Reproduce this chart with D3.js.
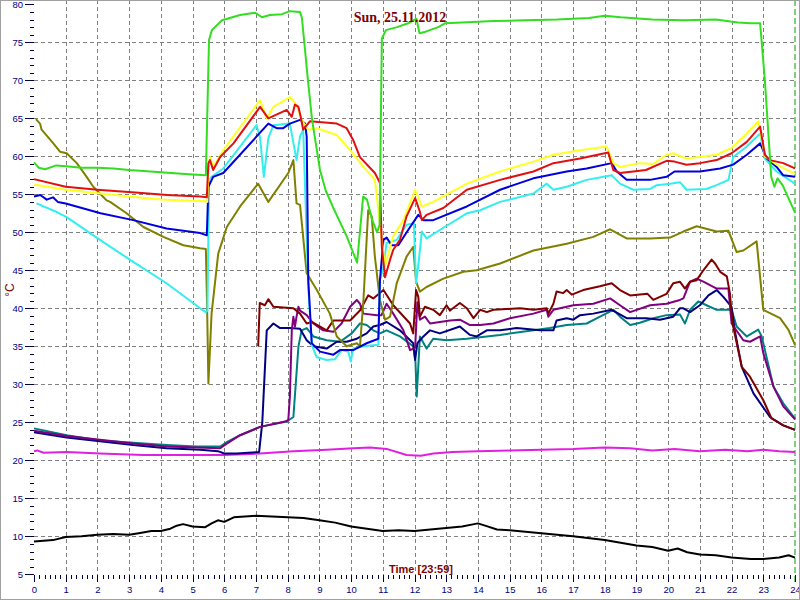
<!DOCTYPE html>
<html><head><meta charset="utf-8">
<script src="https://cdn.jsdelivr.net/npm/d3@7"></script>
<style>html,body{margin:0;padding:0;background:#fff;}svg{display:block;}</style>
</head><body>
<svg id="c" width="800" height="600"></svg>
<script>
const title = "Sun, 25.11.2012";
const xTitle = "Time [23:59]";
const yTitle = "°C";
const xTicks = d3.range(0, 25, 1);
const yTicks = [5,10,15,20,25,30,35,40,45,50,55,60,65,70,75,80];

const green = [[0,59.2],[0.15,58.5],[0.35,58.3],[0.7,58.8],[1,58.7],[1.5,58.5],[2,58.5],[2.5,58.4],[3,58.2],[4,57.9],[5,57.6],[5.42,57.5],[5.49,70],[5.52,75.3],[5.61,76.6],[5.93,77.9],[6.5,78.6],[6.97,78.9],[7.19,78.3],[7.44,78.6],[7.82,78.7],[8.07,79.1],[8.39,79],[8.45,78.2],[8.64,70],[8.77,64.8],[9.02,58.2],[9.2,55.5],[9.43,53.3],[9.87,49.4],[10.19,46],[10.38,54.7],[10.5,54.3],[10.66,51.7],[10.82,50],[10.9,51],[10.97,75.5],[11.1,76.6],[11.45,77],[11.8,77.5],[12.06,78.1],[12.16,76.2],[12.35,76.4],[12.75,77.0],[12.96,77.5],[13.5,77.6],[14.5,77.8],[15.5,77.9],[16.5,78.0],[17.5,78.2],[18,78.5],[18.5,78.3],[19.5,78.0],[20.5,77.9],[21.5,78.0],[22.2,77.6],[22.6,77.5],[22.9,77.5],[23.05,70],[23.25,57.3],[23.35,56],[23.45,57.1],[23.62,56.1],[24,52.6]];
const red = [[0,57.0],[1,56.0],[2,55.6],[3.3,55.2],[4.2,54.9],[5.24,54.7],[5.45,54.6],[5.5,59.1],[5.55,59.5],[5.65,58.2],[5.87,59.9],[6.29,61.7],[7.13,66.5],[7.39,65],[7.97,66.1],[8.13,65.2],[8.23,66.8],[8.34,66.5],[8.41,65.2],[8.49,63.5],[8.7,64.6],[9.55,64.3],[9.86,63.7],[10.07,62.1],[10.28,59.9],[10.75,57.8],[10.91,56.5],[10.97,48.1],[11.07,44.1],[11.23,46.4],[11.33,47.7],[11.54,49],[11.75,52.1],[12.02,54.5],[12.17,52.7],[12.23,51.6],[12.38,52.3],[12.91,53.2],[13.65,55.6],[14.7,56.9],[15.75,58],[16.38,59.1],[17.22,59.7],[18.11,60.5],[18.27,58.2],[18.48,57.8],[18.9,58],[19.3,58.2],[19.95,59.4],[20.2,59.3],[20.58,58.9],[21.0,59.1],[21.53,59.5],[22.0,60.4],[22.48,61.9],[22.9,63.9],[23.05,60.2],[23.21,59.5],[23.63,59.1],[24,58.4]];
const yellow = [[0,56.3],[1,55.6],[2.1,55.1],[3,54.7],[4,54.3],[5.4,54.1],[5.47,54.0],[5.5,57.8],[5.55,59.9],[5.65,58.6],[5.97,60.8],[7.13,67.4],[7.34,65],[7.55,66.5],[8.07,67.8],[8.28,66.8],[8.44,64.8],[8.65,63.5],[8.92,63.7],[9.55,62.8],[9.97,60.8],[10.39,58.6],[10.75,56.9],[10.97,49],[11.07,45.5],[11.33,49.5],[11.65,51.6],[12.02,55.6],[12.23,53.4],[12.59,54],[13.65,56.4],[14.7,58],[15.75,59.3],[16.38,60.2],[17.22,60.8],[18.06,61.3],[18.27,59.1],[18.48,58.6],[19.11,59.1],[19.53,59],[19.95,60.2],[20.16,60.4],[20.58,59.7],[21.53,60.2],[22.0,61.1],[22.48,63],[22.84,64.6],[23.05,60],[23.42,58.9],[24,57.7]];
const blue = [[0,54.7],[0.2,54.9],[0.4,54.3],[0.6,54.6],[0.75,54.0],[1,53.8],[2.1,52.5],[3.13,51.6],[4.18,50.5],[5.24,49.9],[5.45,49.6],[5.5,56],[5.65,57.3],[5.97,57.8],[7.39,64.3],[7.65,63.7],[7.86,63.7],[8.07,64.3],[8.39,64.8],[8.55,64.3],[8.6,62.6],[8.65,43.7],[8.76,35.4],[9.02,34.3],[9.44,33.9],[9.65,34.5],[10.07,34.5],[10.49,35.4],[10.86,36],[10.91,43.7],[11.02,49],[11.12,49.3],[11.28,48.3],[11.49,48.3],[11.8,50.3],[12.12,52.3],[12.28,51.6],[12.59,51.6],[13.65,53.4],[14.7,55.6],[15.75,57.1],[16.8,58],[17.43,58.4],[18.22,59.1],[18.38,58],[18.69,56.9],[19.43,56.9],[19.95,57.3],[20.2,58],[21.0,58],[21.64,58.4],[22.05,58.9],[22.48,60.2],[22.9,61.7],[23.11,59.7],[23.42,58.6],[23.63,57.5],[24,57.3]];
const cyan = [[0.08,53.8],[0.7,52.7],[1.03,52],[2.08,49],[3.13,46.1],[4.18,43.3],[5.24,40],[5.42,39.5],[5.47,39.7],[5.52,56.9],[5.6,57.3],[5.97,58.4],[7.02,64.1],[7.13,62.4],[7.25,57.3],[7.39,62.4],[7.55,64.1],[8.07,64.3],[8.28,59.5],[8.39,62.6],[8.49,63.5],[8.65,42.8],[8.76,35.2],[8.91,33.6],[9.23,33.2],[9.49,33.3],[9.7,34.5],[9.91,34.3],[9.99,33],[10.07,34.7],[10.39,35],[10.86,35.2],[10.91,43.7],[11.02,45.5],[11.12,48.6],[11.44,49],[11.75,51],[11.98,51.2],[12.05,43.3],[12.14,46.4],[12.23,50.1],[12.38,49.2],[12.8,50.3],[13.65,52.5],[14.07,52.9],[14.7,54],[15.75,55.1],[16.17,56.4],[16.38,55.6],[16.8,56],[17.43,56.9],[18.22,57.5],[18.48,56.4],[18.9,55.6],[19.43,55.7],[19.64,56.2],[20.06,56.4],[20.37,56.6],[20.58,55.6],[21.2,55.7],[21.53,56.2],[21.9,56.9],[22.05,59.9],[22.48,61.3],[22.9,63],[23.05,59.7],[23.42,58],[24,56.4]];
const olive = [[0.06,64.9],[0.19,64.3],[0.24,63.5],[0.61,61.7],[0.82,60.6],[1.03,60.4],[1.35,59.1],[1.66,57.3],[1.87,56],[2.29,54.2],[2.4,54],[2.92,52.5],[3.45,50.7],[4.08,49.4],[4.71,48.3],[5.24,47.9],[5.42,47.8],[5.46,40],[5.5,30.1],[5.6,39.3],[5.81,47.2],[6.08,50.7],[6.5,53.4],[7.07,56.4],[7.39,54],[8.02,57.8],[8.18,59.5],[8.28,53.8],[8.39,53.6],[8.6,44.6],[8.92,42.4],[9.33,39.3],[9.55,36.3],[9.86,35],[10.18,35.4],[10.28,35],[10.39,41.1],[10.54,52.9],[10.65,52.1],[10.75,46.8],[10.91,41.1],[11.07,38.5],[11.23,38.9],[11.44,43.3],[11.75,46.8],[11.96,48.1],[12.05,43.5],[12.17,42.2],[12.38,42.8],[12.91,43.9],[13.54,44.8],[13.96,45],[14.7,45.9],[15.75,47.6],[16.8,48.5],[17.64,49.4],[18.17,50.4],[18.69,49.2],[19.43,49.2],[20.06,49.3],[20.48,50.1],[20.9,50.8],[21.53,50.1],[21.9,50.2],[22.16,47.4],[22.37,47.6],[22.79,48.8],[23.0,39.8],[23.53,38.7],[23.79,37.2],[24,35.2]];
const maroon = [[7.07,35],[7.12,40.7],[7.28,40.4],[7.39,41.2],[7.55,40.2],[8.18,40],[8.39,39.3],[8.6,38],[8.76,38.2],[9.23,37.1],[9.44,38.4],[9.97,38.4],[10.28,39.7],[10.54,41.7],[10.7,41.3],[11.02,42.4],[11.33,40.4],[11.86,38],[11.96,36.7],[12.05,42.4],[12.12,41.5],[12.17,38.9],[12.33,40.2],[12.59,39.8],[12.8,39.1],[13.01,40.4],[13.12,39.7],[13.43,40.7],[13.65,40],[13.86,38.7],[14.07,39.8],[14.28,39.5],[14.49,39.8],[14.91,39.9],[15.33,40],[15.75,39.8],[16.17,40],[16.22,39.3],[16.38,40.6],[16.48,42.2],[16.69,42],[16.8,42.4],[16.96,41.8],[17.32,42.4],[17.85,42.9],[18.22,43.3],[18.48,42.4],[18.8,41.7],[19.35,41.9],[19.53,41.1],[19.95,41.9],[20.16,43.3],[20.37,43.5],[20.53,42.6],[20.69,43.5],[20.9,43.7],[21.11,45],[21.37,46.4],[21.48,45.9],[21.64,44.8],[21.85,44.2],[21.95,41.9],[22.0,39.3],[22.05,37.6],[22.32,32.3],[22.58,31],[23.0,27.9],[23.26,25.5],[23.63,24.6],[24,24]];
const purple = [[0,23.9],[1.03,23.2],[2.08,22.7],[3.13,22.2],[4.18,21.8],[5.13,21.7],[5.87,21.6],[6.08,22.2],[6.5,23.3],[7.13,24.4],[7.92,25.1],[8.02,25.3],[8.07,28.4],[8.13,37.1],[8.18,38.9],[8.23,37.6],[8.28,38.9],[8.34,40.2],[8.39,39.7],[8.6,39.1],[8.81,38],[9.12,37.1],[9.44,36.9],[9.7,38],[9.97,40.2],[10.18,41.1],[10.28,40.6],[10.39,39.3],[10.81,39.1],[10.96,39.1],[11.12,40.6],[11.33,39.3],[11.65,37.1],[11.86,34.5],[12.02,34.8],[12.09,40.8],[12.17,38.5],[12.33,38.9],[12.49,38],[12.8,38.2],[13.12,38.4],[13.43,38.5],[13.75,37.8],[14.07,37.8],[14.49,38],[15.01,38.7],[15.75,39.3],[16.17,39.8],[16.22,38.9],[16.38,39.8],[17.01,40.4],[17.64,40.6],[18.17,41.3],[18.48,40.4],[18.8,39.5],[19.43,40.4],[19.95,40.6],[20.37,41.1],[20.48,41.3],[20.69,43.5],[20.9,43.9],[21.11,43.5],[21.53,42.6],[21.9,42.6],[22.0,38],[22.37,35.8],[22.58,35.6],[22.9,36.3],[23.0,34.1],[23.32,29.7],[23.63,27.1],[24,25.4]];
const navy = [[0,23.7],[1.03,23.0],[2.08,22.5],[3.13,22.0],[4.18,21.6],[5.24,21.4],[5.8,21.2],[6.0,20.9],[6.4,20.9],[7.1,21.1],[7.2,25],[7.34,37.1],[7.55,38],[7.76,37.4],[8.07,37.4],[8.39,37.3],[8.6,35.8],[8.81,35],[9.23,34.7],[9.55,35.6],[9.86,35.6],[10.18,36],[10.49,36.7],[10.7,37.6],[10.91,37.8],[11.12,38.2],[11.54,37.1],[11.96,35.4],[12.02,33.2],[12.09,35.4],[12.28,36.3],[12.49,37.1],[12.8,36.7],[13.43,37.6],[13.75,36.5],[13.96,36.3],[14.28,37.1],[14.7,37.1],[15.22,37.4],[15.96,37.1],[16.38,37.1],[16.48,38.4],[16.8,38.7],[17.01,38.5],[17.22,39.1],[17.64,39.3],[18.22,39.8],[18.69,38.7],[19.32,38.7],[19.74,38.5],[20.16,38.9],[20.37,40],[20.48,40],[20.69,39.5],[21.0,40.4],[21.27,41.7],[21.53,42.4],[21.74,41.5],[22.0,40.2],[22.1,37.1],[22.32,32.3],[22.69,28.8],[23.21,25.7],[23.63,24.6],[24,24]];
const teal = [[0,24.2],[1.03,23.3],[2.08,22.6],[3.13,22.3],[4.18,22],[5.13,21.8],[5.87,21.8],[6.08,22.4],[6.5,23.3],[7.13,24.4],[7.97,25.1],[8.18,25.7],[8.34,35],[8.44,37.1],[8.6,37.4],[8.81,36.3],[9.23,35.8],[9.65,35.6],[10.02,36.7],[10.28,38],[10.49,37.8],[10.7,37.1],[10.91,36.7],[11.12,37.1],[11.54,36.3],[11.96,35],[12.03,33],[12.07,28.4],[12.17,36.3],[12.38,34.7],[12.59,36],[13.01,35.8],[13.65,36],[14.7,36.5],[15.75,37.1],[16.27,37.4],[16.8,37.8],[17.43,38],[17.85,38.9],[18.27,39.8],[18.48,38.9],[18.8,37.8],[19.11,38.1],[19.53,38.7],[19.95,39.1],[20.37,39.2],[20.53,38],[20.69,39.8],[20.95,40.9],[21.21,40.4],[21.53,39.8],[22.0,39.8],[22.16,37.6],[22.48,36.3],[22.84,37.2],[22.95,36.3],[23.32,29.7],[23.63,27.5],[24,25.5]];
const magenta = [[0,21.2],[0.1,21.3],[0.3,21.0],[1.03,21.1],[2.08,20.9],[3.45,20.7],[5.24,20.7],[6,20.7],[7.13,20.9],[8.18,21.2],[9.23,21.4],[10.07,21.6],[10.6,21.7],[11.12,21.5],[11.75,20.7],[12.2,20.6],[12.6,20.9],[13.2,21.1],[14.0,21.2],[15,21.3],[16,21.4],[17,21.5],[18,21.7],[18.8,21.6],[19.5,21.3],[20.2,21.5],[21,21.2],[21.8,21.4],[22.5,21.2],[23,21.4],[23.5,21.2],[24,21.1]];
const black = [[0,9.3],[0.3,9.4],[0.6,9.5],[1,9.9],[1.5,10],[2,10.2],[2.5,10.3],[3,10.2],[3.3,10.4],[3.7,10.7],[4,10.7],[4.3,11],[4.5,11.4],[4.7,11.6],[5,11.3],[5.4,11.2],[5.6,11.7],[5.8,12.1],[6.0,11.9],[6.3,12.5],[7,12.7],[7.5,12.6],[8,12.5],[8.5,12.4],[9,12.1],[9.5,11.8],[10,11.3],[10.5,11.0],[11,10.7],[11.5,10.8],[12,10.7],[12.5,10.9],[13,11.1],[13.5,11.3],[14,11.7],[14.3,11.3],[14.6,10.9],[15,10.8],[16,10.4],[17,10],[18,9.5],[19,8.8],[19.5,8.6],[20,8.1],[20.3,8.4],[20.6,7.9],[21,7.6],[21.5,7.5],[22,7.2],[22.6,7.0],[23,7.0],[23.5,7.2],[23.8,7.5],[24,7.2]];

const seriesList = [black, magenta, teal, navy, purple, maroon, olive, cyan, blue, yellow, red, green];
const seriesColors = ["#000000","#e020e0","#008080","#000080","#800080","#800000","#808000","#33eeee","#0000dd","#ffff20","#e01010","#33dd22"];

const svg = d3.select("#c");
const x = d3.scaleLinear().domain([0,24]).range([34,795]);
const y = d3.scaleLinear().domain([5,80]).range([574.3,4.3]);

svg.append("rect").attr("x",0).attr("y",0).attr("width",800).attr("height",600).attr("fill","#fff");

// grid
const grid = svg.append("g").attr("stroke","#808080").attr("stroke-width",1).attr("stroke-dasharray","4,3").attr("shape-rendering","crispEdges");
grid.selectAll(".gx").data(xTicks.filter(d=>d>0&&d<24)).join("line")
  .attr("x1",d=>Math.round(x(d))+0.5).attr("x2",d=>Math.round(x(d))+0.5).attr("y1",0).attr("y2",575);
grid.selectAll(".gy").data(yTicks.filter(d=>d>5&&d<80)).join("line")
  .attr("y1",d=>Math.round(y(d))+0.5).attr("y2",d=>Math.round(y(d))+0.5).attr("x1",34).attr("x2",795);

// current time marker
svg.append("line").attr("x1",x(24)).attr("x2",x(24)).attr("y1",0).attr("y2",585)
  .attr("stroke","#00a000").attr("stroke-width",1).attr("stroke-dasharray","6,3");

// axes
const tickColor = "#000040";
const yMajor = svg.append("g").attr("transform","translate(34,0)")
  .call(d3.axisLeft(y).tickValues(yTicks).tickSize(9).tickPadding(2).tickFormat(d3.format("d")));
const yMinor = svg.append("g").attr("transform","translate(34,0)")
  .call(d3.axisLeft(y).tickValues(d3.range(5,81,1).filter(d=>d%5)).tickSize(4).tickFormat(""));
const xMajor = svg.append("g").attr("transform","translate(0,575)")
  .call(d3.axisBottom(x).tickValues(xTicks).tickSize(7).tickPadding(4).tickFormat(d3.format("d")));
const xMinor = svg.append("g").attr("transform","translate(0,575)")
  .call(d3.axisBottom(x).tickValues(d3.range(0,24*6+1).filter(d=>d%6).map(d=>d/6)).tickSize(4).tickFormat(""));
[yMajor,yMinor,xMajor,xMinor].forEach(g=>{
  g.select(".domain").remove();
  g.selectAll("line").attr("stroke",tickColor).attr("shape-rendering","crispEdges");
  g.selectAll("text").attr("fill","#000080").style("font-family","'Liberation Sans', Arial, sans-serif").style("font-size","9.5px");
});

// series
const line = d3.line().x(d=>x(d[0])).y(d=>y(d[1]));
svg.append("g").selectAll("path").data(seriesList).join("path")
  .attr("d",line).attr("fill","none")
  .attr("stroke",(d,i)=>seriesColors[i]).attr("stroke-width",2).attr("stroke-linejoin","round");

// texts
svg.append("text").attr("x",400).attr("y",22).attr("text-anchor","middle")
  .attr("fill","#800000").style("font-family","'Liberation Serif', 'Times New Roman', serif")
  .style("font-weight","bold").style("font-size","14px").text(title);
svg.append("text").attr("x",421).attr("y",573).attr("text-anchor","middle")
  .attr("fill","#800000").style("font-family","'Liberation Sans', Arial, sans-serif")
  .style("font-weight","bold").style("font-size","11px").text(xTitle);
svg.append("text").attr("transform","translate(14,290) rotate(-90)").attr("text-anchor","middle")
  .attr("fill","#800000").style("font-family","'Liberation Sans', Arial, sans-serif")
  .style("font-size","12px").text(yTitle);

// frame
svg.append("rect").attr("x",0.5).attr("y",0.5).attr("width",799).attr("height",599)
  .attr("fill","none").attr("stroke","#a0a0a0");
</script>
</body></html>
